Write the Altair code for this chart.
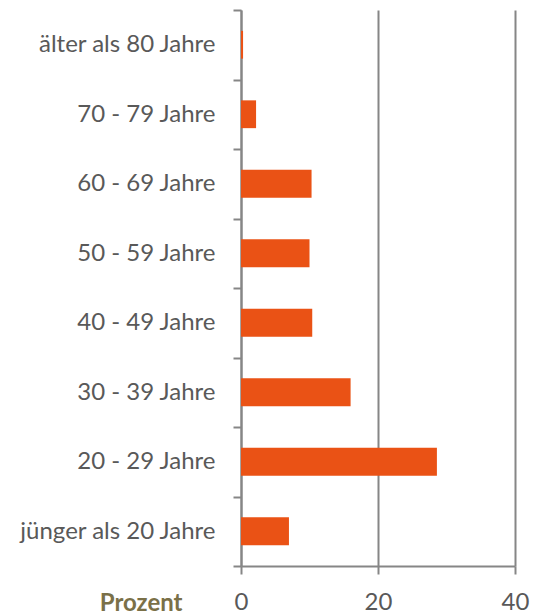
import altair as alt
import pandas as pd

categories = ["älter als 80 Jahre\u00a0", "70 - 79 Jahre", "60 - 69 Jahre", "50 - 59 Jahre",
              "40 - 49 Jahre", "30 - 39 Jahre", "20 - 29 Jahre", "jünger als 20 Jahre"]
values = [0.3, 2.2, 10.3, 10.0, 10.4, 16.0, 28.6, 7.0]
x_ticks = [0, 20, 40]

df = pd.DataFrame({"Gruppe": categories, "Prozent": values})

FONT = "Lato"
FS = 24
GRAY = "#868686"
TXT = "#595959"

chart = alt.Chart(df).mark_bar(color="#EA5215", height=alt.RelativeBandSize(0.4)).encode(
    x=alt.X("Prozent:Q",
            scale=alt.Scale(domain=[0, 40], nice=False),
            axis=alt.Axis(values=x_ticks, grid=True, gridColor=GRAY, gridWidth=2,
                          gridOpacity=1, domainColor=GRAY, domainWidth=2,
                          tickColor=GRAY, tickWidth=2, tickSize=8,
                          labelFont=FONT, labelFontSize=FS, labelColor=TXT,
                          labelPadding=16, labelFlush=False, labelLimit=300,
                          title="Prozent", titleFont=FONT, titleFontSize=FS,
                          titleFontWeight="bold", titleColor="#7A7048",
                          titleX=-59, titleY=37, titleAlign="right",
                          titleBaseline="middle", titleAnchor="start")),
    y=alt.Y("Gruppe:N", sort=categories,
            scale=alt.Scale(paddingInner=0, paddingOuter=0),
            axis=alt.Axis(title=None, tickBand="extent", tickColor=GRAY,
                          tickWidth=2, tickSize=8, domainColor=GRAY,
                          domainWidth=2, labelFont=FONT, labelFontSize=FS,
                          labelColor=TXT, labelPadding=18, labelLimit=300,
                          grid=False)),
).properties(
    width=274, height=556,
    autosize=alt.AutoSizeParams(type="none"),
    padding={"left": 233, "top": 2, "right": 20, "bottom": 49},
).configure_view(stroke=None)

chart.save("out.html", embed_options={"renderer": "svg", "actions": False})
